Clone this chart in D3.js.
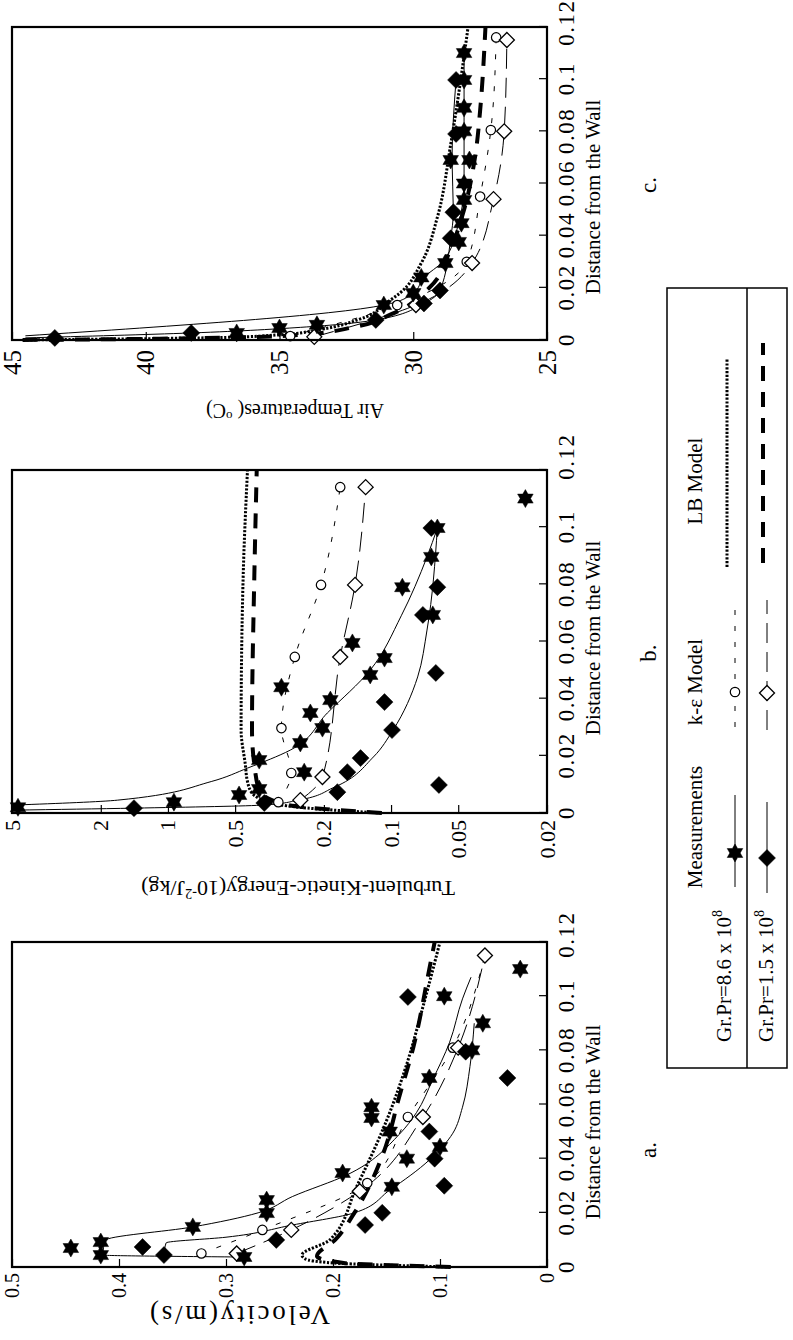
<!DOCTYPE html>
<html>
<head>
<meta charset="utf-8">
<script src="https://cdnjs.cloudflare.com/ajax/libs/d3/7.8.5/d3.min.js"></script>
<style>
  body { margin: 0; background: #fff; }
  svg { display: block; }
  text { font-family: "Liberation Serif", "Times New Roman", serif; fill: #000; }
</style>
</head>
<body>
<div id="chart"></div>
<script>
// ---- axis ticks ----
var distTicks = [0, 0.02, 0.04, 0.06, 0.08, 0.1, 0.12];
var distLabels = ['0', '0.02', '0.04', '0.06', '0.08', '0.1', '0.12'];
var distMinor = [0.01, 0.03, 0.05, 0.07, 0.09, 0.11];

var velTicks = [0, 0.1, 0.2, 0.3, 0.4, 0.5];
var velLabels = ['0', '0.1', '0.2', '0.3', '0.4', '0.5'];
var velMinor = [0.05, 0.15, 0.25, 0.35, 0.45];

var tkeTicks = [0.02, 0.05, 0.1, 0.2, 0.5, 1, 2, 5];
var tkeLabels = ['0.02', '0.05', '0.1', '0.2', '0.5', '1', '2', '5'];
var tkeMinor = [0.03, 0.04, 0.06, 0.07, 0.08, 0.09, 0.3, 0.4, 0.6, 0.7, 0.8, 0.9, 3, 4];

var tempTicks = [25, 30, 35, 40, 45];
var tempLabels = ['25', '30', '35', '40', '45'];
var tempMinor = [27.5, 32.5, 37.5, 42.5];

var panelNames = ['a.', 'b.', 'c.'];
var xTitle = 'Distance from the Wall';

// ---- a. velocity (distance, m/s) ----
var velMeasHi = [[0.0037,0.283],[0.0044,0.417],[0.007,0.445],[0.0092,0.417],[0.0148,0.331],[0.0199,0.262],[0.0247,0.262],
  [0.0296,0.145],[0.0347,0.191],[0.040,0.131],[0.0443,0.100],[0.050,0.147],[0.055,0.164],[0.059,0.164],[0.0698,0.110],
  [0.080,0.070],[0.090,0.060],[0.100,0.096],[0.110,0.025]];
var velMeasLo = [[0.0044,0.358],[0.0074,0.378],[0.010,0.253],[0.0155,0.170],[0.020,0.154],[0.030,0.096],[0.040,0.105],
  [0.050,0.110],[0.0698,0.037],[0.0795,0.076],[0.0997,0.130]];
var velKeHi = [[0.005,0.323],[0.0137,0.266],[0.031,0.168],[0.0554,0.130],[0.081,0.088],[0.115,0.058]];
var velKeLo = [[0.005,0.290],[0.0137,0.239],[0.028,0.175],[0.0554,0.116],[0.081,0.083],[0.115,0.058]];
var velFitHi = [[0.0037,0.29],[0.0044,0.415],[0.0098,0.413],[0.0148,0.331],[0.020,0.27],[0.026,0.238],[0.034,0.187],
  [0.049,0.138],[0.057,0.122],[0.069,0.107],[0.083,0.091],[0.099,0.079],[0.107,0.071]];
var velFitLo = [[0.0044,0.358],[0.0089,0.356],[0.011,0.30],[0.0155,0.238],[0.020,0.180],[0.0284,0.147],[0.0395,0.110],
  [0.0494,0.088],[0.059,0.079],[0.074,0.072],[0.090,0.068]];
var velLBHi = [[0.0,0.09],[0.0015,0.20],[0.003,0.226],[0.0044,0.229],[0.010,0.203],[0.0296,0.178],[0.054,0.15],
  [0.075,0.131],[0.096,0.116],[0.12,0.10]];
var velLBLo = [[0.0,0.09],[0.0015,0.19],[0.004,0.215],[0.010,0.198],[0.020,0.18],[0.042,0.153],[0.063,0.138],
  [0.081,0.125],[0.11,0.11],[0.12,0.105]];

// ---- b. turbulent kinetic energy (distance, 10^-2 J/kg) ----
var tkeMeasHi = [[0.002,4.7],[0.0038,0.94],[0.0063,0.48],[0.0084,0.39],[0.0143,0.245],[0.0185,0.39],[0.0245,0.255],
  [0.0297,0.203],[0.035,0.23],[0.0395,0.187],[0.044,0.31],[0.0483,0.124],[0.0542,0.107],[0.0595,0.149],[0.0693,0.065],
  [0.079,0.089],[0.0896,0.066],[0.0997,0.062],[0.110,0.025]];
var tkeMeasLo = [[0.0017,1.42],[0.0035,0.37],[0.0073,0.174],[0.0098,0.061],[0.0143,0.157],[0.0192,0.137],[0.029,0.099],
  [0.0388,0.107],[0.049,0.063],[0.0693,0.072],[0.079,0.062],[0.0997,0.066]];
var tkeKeHi = [[0.0038,0.32],[0.014,0.28],[0.0297,0.31],[0.0546,0.27],[0.0798,0.206],[0.114,0.169]];
var tkeKeLo = [[0.0045,0.255],[0.0126,0.203],[0.0546,0.169],[0.0798,0.145],[0.114,0.130]];
var tkeFitHi = [[0.0028,4.8],[0.0045,1.68],[0.011,0.64],[0.0157,0.44],[0.022,0.283],[0.035,0.193],[0.05,0.124],
  [0.069,0.09],[0.0896,0.069],[0.0997,0.062]];
var tkeFitLo = [[0.001,4.9],[0.0017,1.42],[0.0028,0.37],[0.0045,0.26],[0.009,0.18],[0.0196,0.12],[0.029,0.098],
  [0.0476,0.076],[0.064,0.069],[0.0997,0.062]];
var tkeLBHi = [[0.0,0.11],[0.001,0.18],[0.003,0.32],[0.007,0.42],[0.011,0.44],[0.017,0.45],[0.029,0.47],[0.083,0.46],[0.12,0.44]];
var tkeLBLo = [[0.0,0.11],[0.001,0.17],[0.003,0.30],[0.008,0.39],[0.017,0.41],[0.029,0.42],[0.083,0.41],[0.12,0.40]];

// ---- c. air temperature (distance, oC) ----
var tempMeasHi = [[0.0027,36.6],[0.0046,35.0],[0.0058,33.6],[0.0134,31.1],[0.018,30.0],[0.024,29.7],[0.0295,28.8],
  [0.0376,28.3],[0.0448,28.2],[0.0537,28.1],[0.060,28.1],[0.069,27.9],[0.069,28.6],[0.080,28.1],[0.089,28.1],
  [0.0997,28.1],[0.110,28.1]];
var tempMeasLo = [[0.0008,43.4],[0.0027,38.3],[0.0077,31.4],[0.014,29.6],[0.019,29.0],[0.039,28.6],[0.049,28.5],
  [0.079,28.4],[0.0997,28.4]];
var tempKeHi = [[0.0015,34.6],[0.0134,30.6],[0.030,28.0],[0.055,27.5],[0.0805,27.1],[0.116,26.9]];
var tempKeLo = [[0.0012,33.7],[0.0134,29.9],[0.0295,27.8],[0.054,27.0],[0.080,26.6],[0.115,26.5]];
var tempFitHi = [[0.0016,44.5],[0.0134,31.1],[0.018,30.0],[0.024,29.6],[0.030,28.9],[0.045,28.3],[0.060,28.1],
  [0.080,28.1],[0.110,28.1]];
var tempFitLo = [[0.0008,44.5],[0.0027,38.3],[0.005,34.0],[0.0077,31.4],[0.014,29.6],[0.019,29.0],[0.039,28.6],
  [0.049,28.5],[0.069,28.55],[0.0997,28.4]];
var tempLBHi = [[0.0,44.6],[0.0005,40],[0.001,37],[0.002,35],[0.004,33.5],[0.008,32],[0.015,30.9],[0.018,30.5],
  [0.0295,29.7],[0.047,29.1],[0.075,28.6],[0.12,27.95]];
var tempLBLo = [[0.0,44.6],[0.0005,39.5],[0.001,36.5],[0.002,34.2],[0.005,32.2],[0.010,30.8],[0.020,29.4],[0.035,28.6],
  [0.050,28.1],[0.073,27.65],[0.088,27.5],[0.12,27.3]];

// ---- legend ----
var legendHeads = ['Measurements', 'k-\u03b5 Model', 'LB Model'];
var legendRows = ['Gr.Pr=8.6 x 10', 'Gr.Pr=1.5 x 10'];
var legendExp = '8';

// ------------------------------------------------------------
var W = 793, H = 1340;
var svg = d3.select('#chart').append('svg').attr('width', W).attr('height', H);
svg.append('rect').attr('width', W).attr('height', H).attr('fill', '#fff');

// the figure is printed sideways: lay it out landscape, then turn it
var page = svg.append('g').attr('transform', 'translate(0,' + H + ') rotate(-90)');

var lineStyle = {
  fitHi: { dash: null, w: 1 },
  fitLo: { dash: null, w: 1 },
  keHi: { dash: '5,11', w: 1 },
  keLo: { dash: '20,9', w: 1 },
  lbHi: { dash: '2.2,1.6', w: 3 },
  lbLo: { dash: '15,11', w: 4 }
};

function hexagram(r) {
  var p = d3.path();
  for (var i = 0; i < 12; i++) {
    var a = Math.PI / 6 * i;
    var rr = i % 2 === 0 ? r : r / Math.sqrt(3);
    if (i === 0) p.moveTo(rr * Math.cos(a), rr * Math.sin(a));
    else p.lineTo(rr * Math.cos(a), rr * Math.sin(a));
  }
  p.closePath();
  return p.toString();
}
function diamond(r) {
  return 'M0,' + (-r) + 'L' + r + ',0L0,' + r + 'L' + (-r) + ',0Z';
}
var markDef = {
  star: { d: hexagram(9), fill: '#000', stroke: '#000', sw: 0.5 },
  dia: { d: diamond(8.5), fill: '#000', stroke: '#000', sw: 0.5 },
  circ: { d: d3.symbol().type(d3.symbolCircle).size(70)(), fill: '#fff', stroke: '#000', sw: 1.2 },
  odia: { d: diamond(7.5), fill: '#fff', stroke: '#000', sw: 1.3 }
};

function drawLine(g, data, st, x, y) {
  var s = lineStyle[st];
  var line = d3.line().x(function (d) { return x(d[0]); }).y(function (d) { return y(d[1]); })
    .curve(d3.curveMonotoneX);
  g.append('path').datum(data).attr('d', line).attr('fill', 'none').attr('stroke', '#000')
    .attr('stroke-width', s.w).attr('stroke-dasharray', s.dash);
}
function drawMarks(g, data, kind, x, y) {
  var m = markDef[kind];
  g.selectAll(null).data(data).enter().append('path')
    .attr('transform', function (d) { return 'translate(' + x(d[0]) + ',' + y(d[1]) + ')'; })
    .attr('d', m.d).attr('fill', m.fill).attr('stroke', m.stroke).attr('stroke-width', m.sw);
}

function drawPanel(p) {
  var top = 12, bottom = 547;
  var x = d3.scaleLinear().domain([0, 0.12]).range([p.x0, p.x1]);
  var y = p.y;
  var g = page.append('g');

  drawLine(g, p.lbHi, 'lbHi', x, y);
  drawLine(g, p.lbLo, 'lbLo', x, y);
  drawLine(g, p.keHi, 'keHi', x, y);
  drawLine(g, p.keLo, 'keLo', x, y);
  drawLine(g, p.fitHi, 'fitHi', x, y);
  drawLine(g, p.fitLo, 'fitLo', x, y);
  drawMarks(g, p.keHi, 'circ', x, y);
  drawMarks(g, p.keLo, 'odia', x, y);
  drawMarks(g, p.measLo, 'dia', x, y);
  drawMarks(g, p.measHi, 'star', x, y);

  // distance axis, ticks pointing in
  var ax = g.append('g').attr('transform', 'translate(0,' + bottom + ')');
  ax.call(d3.axisBottom(x).tickValues(distMinor).tickSize(-5).tickFormat(''));
  ax.call(d3.axisBottom(x).tickValues(distTicks).tickSize(-8).tickPadding(11)
    .tickFormat(function (d, i) { return distLabels[i]; }));
  ax.select('.domain').remove();
  ax.attr('font-family', '"Liberation Serif", serif').attr('font-size', 23);
  ax.selectAll('.tick text').attr('dx', function (d) { return d === 0.12 ? p.lastDx : 0; })
    .attr('letter-spacing', 1.5);
  ax.selectAll('.tick line').attr('stroke-width', 1.2);

  var ay = g.append('g').attr('transform', 'translate(' + p.x0 + ',0)');
  ay.call(d3.axisLeft(y).tickValues(p.minor).tickSize(-5).tickFormat(''));
  ay.call(d3.axisLeft(y).tickValues(p.ticks).tickSize(-8).tickPadding(p.pad)
    .tickFormat(function (d, i) { return p.labels[i]; }));
  ay.select('.domain').remove();
  ay.attr('font-family', p.yFont).attr('font-size', p.yFontSize);
  ay.selectAll('.tick line').attr('stroke-width', 1.2);

  g.append('rect').attr('x', p.x0).attr('y', top).attr('width', p.x1 - p.x0).attr('height', bottom - top)
    .attr('fill', 'none').attr('stroke', '#000').attr('stroke-width', 2.2);

  // axis titles
  g.append('text').attr('x', p.xTitleX).attr('y', 600).attr('text-anchor', 'middle')
    .attr('font-size', 21).text(xTitle);
  g.append('text').attr('x', p.nameX).attr('y', 656).attr('text-anchor', 'middle')
    .attr('font-size', 23).text(p.name);

  var yt = g.append('text').attr('transform', 'translate(' + p.yTitleX + ',' + p.yTitleY + ') rotate(-90)')
    .attr('text-anchor', 'middle').attr('font-size', p.yTitleSize);
  if (p.yTitleLen) yt.attr('textLength', p.yTitleLen).attr('lengthAdjust', 'spacing');
  p.yTitle.forEach(function (part) {
    var t = yt.append('tspan').text(part.t);
    if (part.sup) t.attr('font-size', p.yTitleSize * 0.65).attr('dy', -8);
    if (part.down) t.attr('dy', 8);
  });
}

drawPanel({
  x0: 73, x1: 398, name: panelNames[0], nameX: 190, xTitleX: 218, lastDx: 7,
  y: d3.scaleLinear().domain([0, 0.5]).range([547, 12]),
  ticks: velTicks, labels: velLabels, minor: velMinor, pad: 6,
  yFont: '"Liberation Sans", Arial, sans-serif', yFontSize: 20,
  yTitle: [{ t: 'Velocity(m/s)' }], yTitleX: 34, yTitleY: 240, yTitleSize: 27, yTitleLen: 180,
  measHi: velMeasHi, measLo: velMeasLo, keHi: velKeHi, keLo: velKeLo,
  fitHi: velFitHi, fitLo: velFitLo, lbHi: velLBHi, lbLo: velLBLo
});
drawPanel({
  x0: 527, x1: 870, name: panelNames[1], nameX: 687, xTitleX: 702, lastDx: 13,
  y: d3.scaleLog().domain([0.02, 5]).range([547, 12]),
  ticks: tkeTicks, labels: tkeLabels, minor: tkeMinor, pad: 7,
  yFont: '"Liberation Serif", serif', yFontSize: 22,
  yTitle: [{ t: 'Turbulent-Kinetic-Energy(10' }, { t: '-2', sup: true }, { t: 'J/kg)', down: true }],
  yTitleX: 459, yTitleY: 298, yTitleSize: 22, yTitleLen: 0,
  measHi: tkeMeasHi, measLo: tkeMeasLo, keHi: tkeKeHi, keLo: tkeKeLo,
  fitHi: tkeFitHi, fitLo: tkeFitLo, lbHi: tkeLBHi, lbLo: tkeLBLo
});
drawPanel({
  x0: 1000, x1: 1313, name: panelNames[2], nameX: 1155, xTitleX: 1143, lastDx: 4,
  y: d3.scaleLinear().domain([25, 45]).range([547, 12]),
  ticks: tempTicks, labels: tempLabels, minor: tempMinor, pad: 10,
  yFont: '"Liberation Sans", Arial, sans-serif', yFontSize: 25,
  yTitle: [{ t: 'Air Temperatures( ' }, { t: 'o', sup: true }, { t: 'C)', down: true }],
  yTitleX: 936, yTitleY: 295, yTitleSize: 20, yTitleLen: 0,
  measHi: tempMeasHi, measLo: tempMeasLo, keHi: tempKeHi, keLo: tempKeLo,
  fitHi: tempFitHi, fitLo: tempFitLo, lbHi: tempLBHi, lbLo: tempLBLo
});

// ---- legend box ----
var lg = page.append('g');
lg.append('rect').attr('x', 272).attr('y', 667).attr('width', 780).attr('height', 120)
  .attr('fill', 'none').attr('stroke', '#000').attr('stroke-width', 1.5);
lg.append('line').attr('x1', 272).attr('x2', 1052).attr('y1', 747).attr('y2', 747)
  .attr('stroke', '#000').attr('stroke-width', 1.5);

var headX = [513, 658, 859];
legendHeads.forEach(function (h, i) {
  lg.append('text').attr('x', headX[i]).attr('y', 702).attr('text-anchor', 'middle').attr('font-size', 21).text(h);
});
var rowY = [731, 773];
legendRows.forEach(function (r, i) {
  var t = lg.append('text').attr('x', 430).attr('y', rowY[i]).attr('text-anchor', 'end').attr('font-size', 21);
  t.append('tspan').text(r);
  t.append('tspan').attr('font-size', 14).attr('dy', -9).text(legendExp);
});

var ident = function (v) { return v; };
// measurements column
drawLine(lg, [[453, 735], [545, 735]], 'fitHi', ident, ident);
drawMarks(lg, [[487, 735]], 'star', ident, ident);
drawLine(lg, [[447, 767], [538, 767]], 'fitLo', ident, ident);
drawMarks(lg, [[482, 767]], 'dia', ident, ident);
// k-e column
drawLine(lg, [[613, 735], [732, 735]], 'keHi', ident, ident);
drawMarks(lg, [[648, 735]], 'circ', ident, ident);
drawLine(lg, [[610, 767], [740, 767]], 'keLo', ident, ident);
drawMarks(lg, [[647, 767]], 'odia', ident, ident);
// LB column
drawLine(lg, [[773, 727], [982, 727]], 'lbHi', ident, ident);
drawLine(lg, [[777, 763], [997, 763]], 'lbLo', ident, ident);
</script>
</body>
</html>
